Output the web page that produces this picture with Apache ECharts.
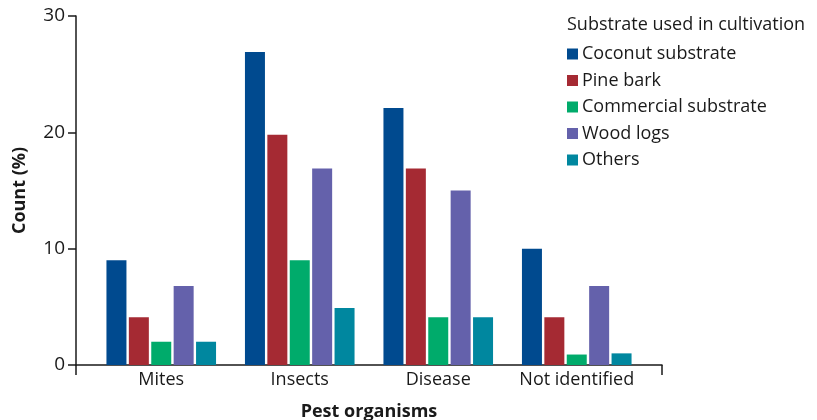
<!DOCTYPE html>
<html>
<head>
<meta charset="utf-8">
<script src="https://cdn.jsdelivr.net/npm/echarts@6/dist/echarts.min.js"></script>
<style>
  html, body { margin: 0; padding: 0; background: #fff; }
  #chart { width: 817px; height: 420px; }
</style>
</head>
<body>
<div id="chart"></div>
<script>
  // data
  var categories = ['Mites', 'Insects', 'Disease', 'Not identified'];
  var substrates = ['Coconut substrate', 'Pine bark', 'Commercial substrate', 'Wood logs', 'Others'];
  var coconut = [9, 26.9, 22.1, 10];
  var pineBark = [4.1, 19.8, 16.9, 4.1];
  var commercial = [2, 9, 4.1, 0.9];
  var woodLogs = [6.8, 16.9, 15, 6.8];
  var others = [2, 4.9, 4.1, 1];
  var yTicks = [0, 10, 20, 30];

  var colors = ['#004a8f', '#a52a33', '#00ab6b', '#6461ab', '#00879f'];
  var values = [coconut, pineBark, commercial, woodLogs, others];
  var font = 'Open Sans';
  var ink = '#1a1a1a';

  var chart = echarts.init(document.getElementById('chart'));

  var series = substrates.map(function (name, i) {
    return {
      name: name,
      type: 'bar',
      xAxisIndex: 0,
      yAxisIndex: 0,
      barWidth: 20,
      barGap: '12%',
      itemStyle: { color: colors[i] },
      z: 3,
      data: values[i]
    };
  });

  chart.setOption({
    animation: false,
    textStyle: { fontFamily: font },
    legend: {
      orient: 'vertical',
      left: 567,
      top: 45,
      padding: 0,
      itemWidth: 11,
      itemHeight: 11,
      itemGap: 8.5,
      icon: 'rect',
      textStyle: { fontSize: 18, color: ink, lineHeight: 18, padding: [0, 0, 0, -1] },
      data: substrates
    },
    graphic: [{
      type: 'text',
      left: 567,
      top: 16,
      style: { text: 'Substrate used in cultivation', fontSize: 18, fill: ink, fontFamily: font }
    }],
    // grid 0 holds the bars, grid 1 the longer axis frame around them
    grid: [
      { left: 92, width: 554, top: 16, height: 349, outerBoundsMode: 'none' },
      { left: 76, width: 586, top: 16, height: 349, outerBoundsMode: 'none' }
    ],
    xAxis: [{
      type: 'category',
      gridIndex: 0,
      data: categories,
      axisLine: { show: false },
      axisTick: { show: false },
      axisLabel: { fontSize: 18, color: ink, margin: 6, interval: 0 },
      name: 'Pest organisms',
      nameLocation: 'middle',
      nameGap: 38,
      nameTextStyle: { fontSize: 18, fontWeight: 'bold', color: ink }
    }, {
      type: 'value',
      gridIndex: 1,
      min: 0,
      max: 1,
      interval: 1,
      splitLine: { show: false },
      axisLabel: { show: false },
      axisLine: { lineStyle: { color: ink, width: 1.5 } },
      axisTick: { length: 10, lineStyle: { color: ink, width: 1.5 } }
    }],
    yAxis: [{
      type: 'value',
      gridIndex: 0,
      min: 0,
      max: 30,
      show: false
    }, {
      type: 'value',
      gridIndex: 1,
      min: yTicks[0],
      max: yTicks[yTicks.length - 1],
      interval: 10,
      splitLine: { show: false },
      axisLine: { show: true, lineStyle: { color: ink, width: 1.5 } },
      axisTick: { show: true, length: 8, lineStyle: { color: ink, width: 1.5 } },
      axisLabel: { fontSize: 19, color: ink, margin: 11 },
      name: 'Count (%)',
      nameLocation: 'middle',
      nameGap: 47,
      nameTextStyle: { fontSize: 18, fontWeight: 'bold', color: ink }
    }],
    series: series
  });
</script>
</body>
</html>
